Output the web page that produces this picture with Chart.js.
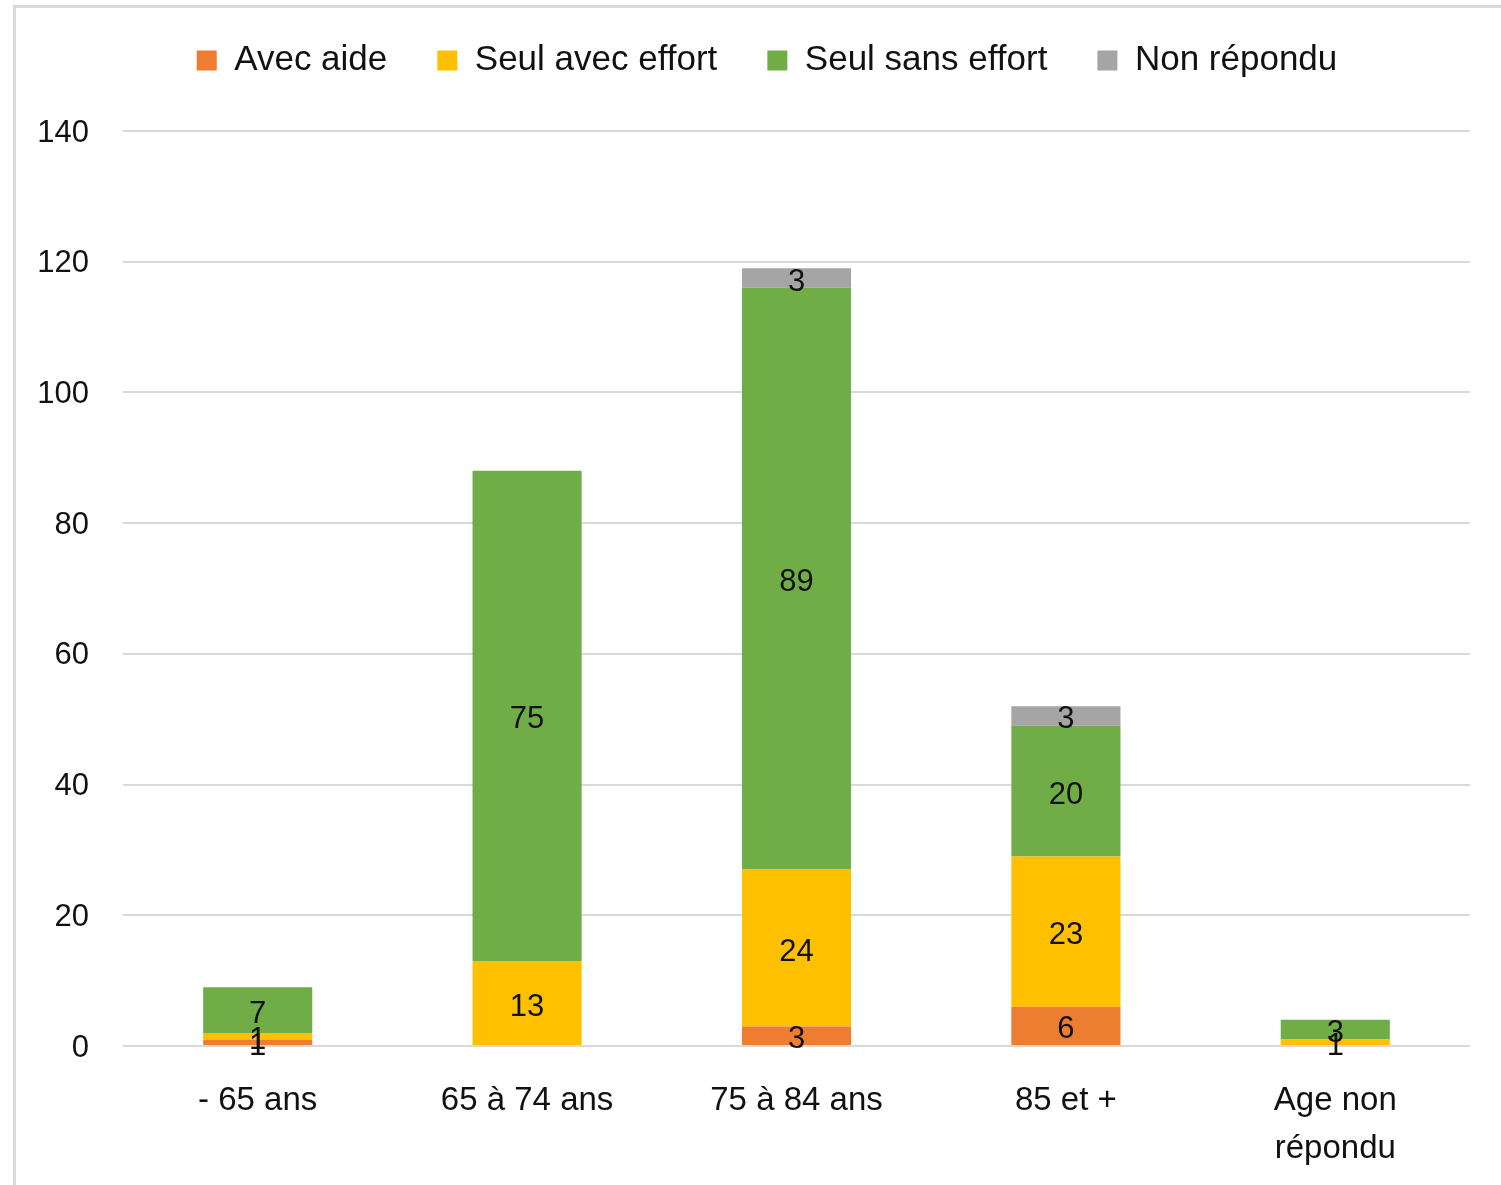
<!DOCTYPE html>
<html>
<head>
<meta charset="utf-8">
<script src="https://cdn.jsdelivr.net/npm/chart.js@4/dist/chart.umd.min.js"></script>
<style>
  body { margin: 0; background: #fff; }
  #frame { position: absolute; left: 13px; top: 5px; width: 1600px; height: 1300px; border: 3px solid #d9d9d9; }
  #c { position: absolute; left: 0; top: 0; }
</style>
</head>
<body>
<div id="frame"></div>
<canvas id="c" width="1501" height="1185"></canvas>
<script>
const categories = ["- 65 ans", "65 à 74 ans", "75 à 84 ans", "85 et +", ["Age non", "répondu"]];
const avecAide = [1, 0, 3, 6, 0];
const seulAvecEffort = [1, 13, 24, 23, 1];
const seulSansEffort = [7, 75, 89, 20, 3];
const nonRepondu = [0, 0, 3, 3, 0];
const yTicks = [0, 20, 40, 60, 80, 100, 120, 140];

const font = "'Liberation Sans', Arial, sans-serif";

// draws the value in the middle of each non-zero segment
const barLabels = {
  id: "barLabels",
  afterDatasetsDraw(chart) {
    const ctx = chart.ctx;
    ctx.save();
    ctx.font = "31px " + font;
    ctx.fillStyle = "#111";
    ctx.textAlign = "center";
    ctx.textBaseline = "middle";
    chart.data.datasets.forEach((ds, i) => {
      chart.getDatasetMeta(i).data.forEach((bar, j) => {
        const v = ds.data[j];
        if (!v) return;
        ctx.fillText(String(v), bar.x, (bar.y + bar.base) / 2 + 4);
      });
    });
    ctx.restore();
  }
};

const legendPlace = {
  id: "legendPlace",
  beforeInit(chart) {
    const fit = chart.legend.fit;
    chart.legend.fit = function () {
      fit.bind(chart.legend)();
      this.height = 131;
    };
  },
  afterLayout(chart) {
    chart.legend.left += 32;
    chart.legend.right += 32;
    chart.legend.top -= 7;
  }
};

new Chart(document.getElementById("c"), {
  type: "bar",
  data: {
    labels: categories,
    datasets: [
      { label: "Avec aide", data: avecAide, backgroundColor: "#ED7D31" },
      { label: "Seul avec effort", data: seulAvecEffort, backgroundColor: "#FFC000" },
      { label: "Seul sans effort", data: seulSansEffort, backgroundColor: "#70AD47" },
      { label: "Non répondu", data: nonRepondu, backgroundColor: "#A5A5A5" }
    ]
  },
  options: {
    responsive: false,
    animation: false,
    layout: { padding: { left: 0, right: 31, top: 0, bottom: 0 } },
    datasets: { bar: { barPercentage: 0.405, categoryPercentage: 1 } },
    plugins: {
      legend: {
        position: "top",
        labels: {
          boxWidth: 20,
          boxHeight: 20,
          padding: 50,
          color: "#111",
          font: { family: font, size: 35 }
        }
      },
      tooltip: { enabled: false }
    },
    scales: {
      x: {
        stacked: true,
        grid: { display: false, drawTicks: false },
        border: { display: false },
        ticks: { color: "#111", padding: 31, font: { family: font, size: 33, lineHeight: 1.45 } },
        afterFit(scale) { scale.height = 139; }
      },
      y: {
        stacked: true,
        min: 0,
        max: 140,
        afterBuildTicks(scale) { scale.ticks = yTicks.map(v => ({ value: v })); },
        grid: { color: "#d9d9d9", lineWidth: 2, drawTicks: false },
        border: { display: false },
        ticks: { color: "#111", padding: 34, labelOffset: 2, font: { family: font, size: 31 } },
        afterFit(scale) { scale.width = 123; }
      }
    }
  },
  plugins: [barLabels, legendPlace]
});
</script>
</body>
</html>
